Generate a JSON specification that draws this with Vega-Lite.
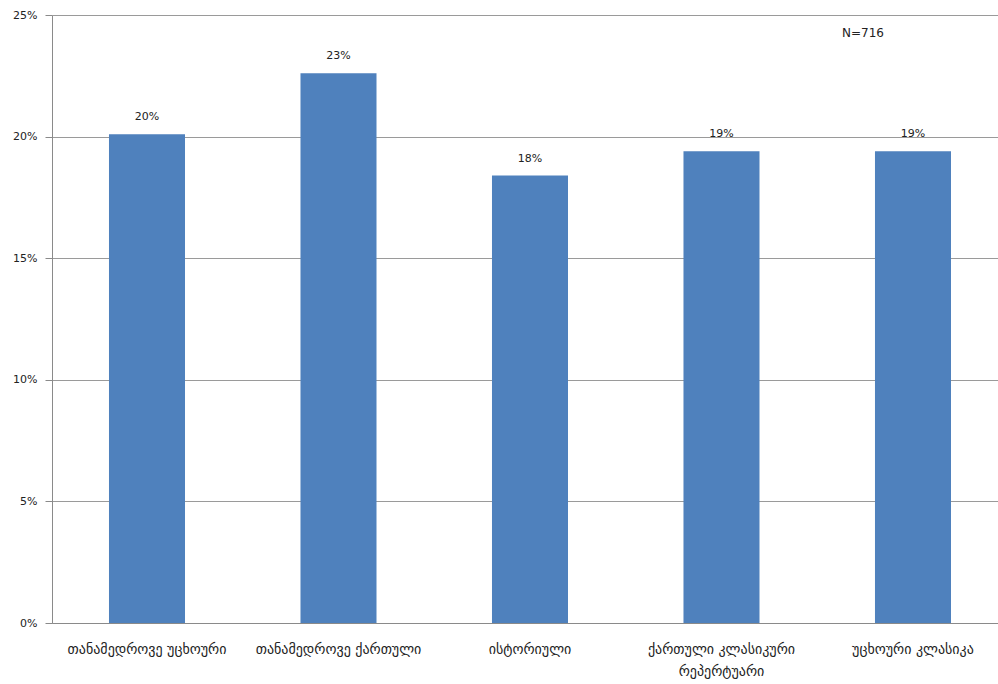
{
  "$schema": "https://vega.github.io/schema/vega-lite/v6.json",
  "width": 946,
  "height": 608,
  "autosize": "none",
  "padding": {"left": 52, "top": 15, "right": 0, "bottom": 61},
  "background": "white",
  "config": {
    "view": {"stroke": null},
    "font": "DejaVu Sans"
  },
  "data": {
    "values": [
      {"category": "თანამედროვე უცხოური", "share": 0.201},
      {"category": "თანამედროვე ქართული", "share": 0.226},
      {"category": "ისტორიული", "share": 0.184},
      {"category": "ქართული კლასიკური რეპერტუარი", "share": 0.194},
      {"category": "უცხოური კლასიკა", "share": 0.194}
    ]
  },
  "encoding": {
    "x": {
      "field": "category",
      "type": "nominal",
      "sort": null,
      "scale": {"paddingInner": 0.603, "paddingOuter": 0.2715, "align": 0.548},
      "axis": {
        "title": null,
        "labelAngle": 0,
        "labelFont": "DejaVu Sans",
        "labelFontSize": 14,
        "labelColor": "#222222",
        "labelPadding": 19,
        "labelLineHeight": 22,
        "labelLimit": 300,
        "ticks": false,
        "domainColor": "#8a8a8a",
        "labelExpr": "datum.label == 'ქართული კლასიკური რეპერტუარი' ? ['ქართული კლასიკური', 'რეპერტუარი'] : datum.label"
      }
    }
  },
  "layer": [
    {
      "mark": {"type": "bar", "color": "#4F81BD"},
      "encoding": {
        "y": {
          "field": "share",
          "type": "quantitative",
          "scale": {"domain": [0, 0.25], "nice": false},
          "axis": {
            "title": null,
            "format": ".0%",
            "values": [0, 0.05, 0.1, 0.15, 0.2, 0.25],
            "labelFont": "DejaVu Sans",
            "labelFontSize": 11,
            "labelColor": "#222222",
            "labelPadding": 8,
            "tickSize": 7,
            "tickColor": "#8a8a8a",
            "domainColor": "#8a8a8a",
            "gridColor": "#9a9a9a",
            "gridWidth": 1
          }
        }
      }
    },
    {
      "mark": {"type": "text", "baseline": "bottom", "dy": -12, "fontSize": 11, "fontWeight": "normal", "color": "#222222", "font": "DejaVu Sans"},
      "encoding": {
        "y": {"field": "share", "type": "quantitative"},
        "text": {"field": "share", "type": "quantitative", "format": ".0%"}
      }
    },
    {
      "data": {"values": [{"note": "N=716", "category": "უცხოური კლასიკა", "ypos": 0.2426}]},
      "mark": {"type": "text", "fontSize": 12, "fontWeight": "normal", "color": "#222222", "dx": -50, "font": "DejaVu Sans"},
      "encoding": {
        "y": {"field": "ypos", "type": "quantitative"},
        "text": {"field": "note", "type": "nominal"}
      }
    }
  ]
}
